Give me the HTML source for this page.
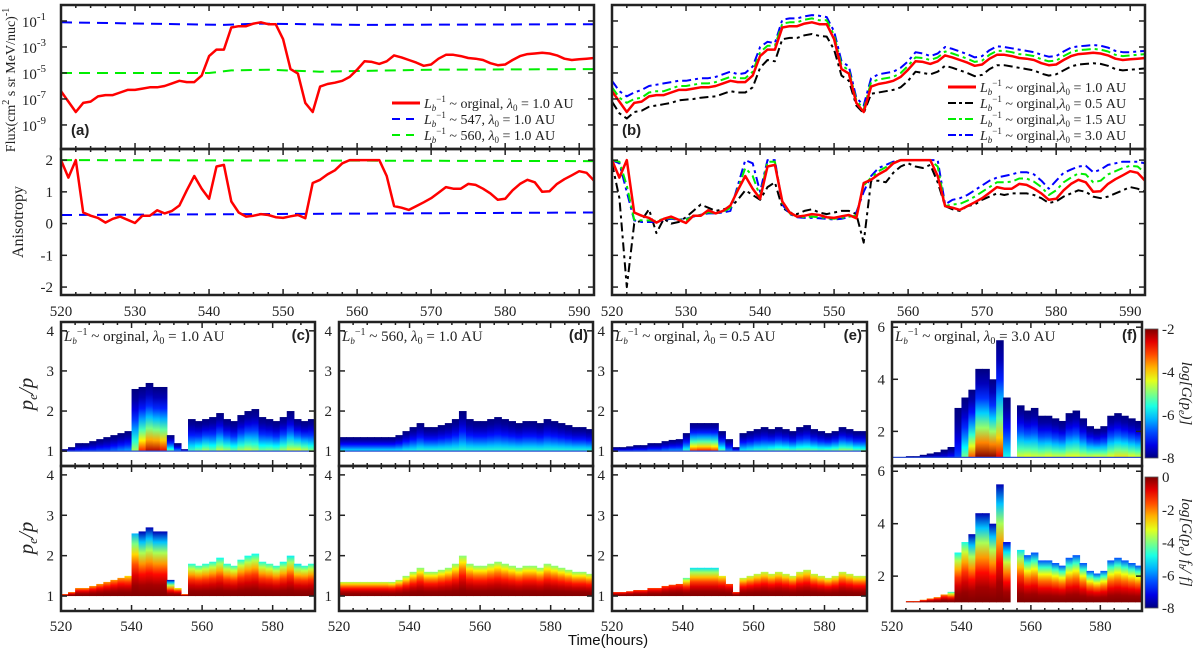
<!DOCTYPE html>
<html><head><meta charset="utf-8">
<style>
body{margin:0;background:#fff;}
svg{display:block;font-family:"Liberation Serif",serif;}
.tk{font-size:15px;fill:#222;}
.lg{font-size:14px;fill:#222;}
</style></head>
<body>
<svg id="fig" width="1200" height="657" viewBox="0 0 1200 657" xmlns="http://www.w3.org/2000/svg">
<defs id="defs"></defs>
<g id="root"></g>
</svg>
<script>
// ---------- DATA ----------
const hours = [];for(let t=520;t<=592;t++)hours.push(t);
const fluxRed=[-6.4,-7.2,-8.0,-7.3,-7.2,-6.8,-6.7,-6.7,-6.5,-6.3,-6.3,-6.2,-6.1,-6.1,-6.0,-5.8,-5.6,-5.7,-5.7,-5.2,-3.7,-3.2,-3.2,-1.5,-1.4,-1.4,-1.2,-1.1,-1.25,-1.25,-2.4,-4.7,-5.05,-7.3,-8.0,-6.05,-5.85,-5.75,-5.6,-5.3,-4.75,-4.1,-4.15,-4.3,-4.1,-3.65,-3.8,-4.0,-4.2,-4.45,-4.35,-3.9,-3.6,-3.6,-3.7,-3.85,-3.9,-4.0,-4.25,-4.4,-4.35,-4.0,-3.7,-3.55,-3.5,-3.45,-3.5,-3.65,-3.9,-4.0,-3.95,-3.9,-3.85];
const fluxBlack=[-7.2,-8.1,-8.5,-8.0,-7.9,-7.6,-7.5,-7.4,-7.3,-7.1,-7.05,-7.0,-6.9,-6.85,-6.8,-6.6,-6.4,-6.5,-6.5,-6.1,-4.6,-4.0,-4.1,-2.4,-2.3,-2.3,-2.1,-2.0,-2.15,-2.2,-3.2,-5.2,-5.6,-7.5,-8.1,-6.6,-6.5,-6.4,-6.3,-6.1,-5.6,-4.9,-5.0,-5.1,-4.9,-4.45,-4.6,-4.8,-5.0,-5.25,-5.15,-4.7,-4.4,-4.4,-4.5,-4.6,-4.7,-4.8,-5.05,-5.2,-5.1,-4.8,-4.5,-4.35,-4.3,-4.25,-4.3,-4.45,-4.7,-4.8,-4.75,-4.7,-4.65];
const fluxGreen=[-6.1,-6.9,-7.3,-7.0,-6.9,-6.5,-6.4,-6.4,-6.2,-6.0,-6.0,-5.9,-5.8,-5.8,-5.7,-5.5,-5.3,-5.4,-5.4,-4.9,-3.4,-2.9,-2.9,-1.2,-1.1,-1.1,-0.9,-0.8,-0.95,-0.95,-2.1,-4.4,-4.8,-7.1,-7.8,-5.7,-5.5,-5.4,-5.3,-5.0,-4.45,-3.8,-3.85,-4.0,-3.8,-3.35,-3.5,-3.7,-3.9,-4.15,-4.05,-3.6,-3.3,-3.3,-3.4,-3.55,-3.6,-3.7,-3.95,-4.1,-4.05,-3.7,-3.4,-3.25,-3.2,-3.15,-3.2,-3.35,-3.6,-3.7,-3.65,-3.6,-3.55];
const fluxBlue=[-5.6,-6.4,-6.8,-6.5,-6.3,-6.0,-5.9,-5.8,-5.7,-5.6,-5.6,-5.5,-5.4,-5.4,-5.3,-5.1,-4.9,-5.1,-5.0,-4.5,-3.0,-2.6,-2.7,-0.9,-0.8,-0.8,-0.65,-0.55,-0.6,-0.7,-1.8,-4.1,-4.5,-6.9,-7.5,-5.4,-5.1,-5.0,-4.9,-4.6,-4.1,-3.4,-3.5,-3.7,-3.5,-3.0,-3.15,-3.35,-3.55,-3.8,-3.7,-3.25,-2.95,-3.0,-3.1,-3.2,-3.3,-3.4,-3.6,-3.75,-3.7,-3.35,-3.05,-2.95,-2.9,-2.85,-2.9,-3.05,-3.3,-3.4,-3.4,-3.35,-3.3];
const fluxBlueDashTimes=[520,542,547,560,592];
const fluxBlueDash=[-1.1,-1.3,-1.2,-1.3,-1.25];
const fluxGreenDashTimes=[520,540,543,548,555,560,570,592];
const fluxGreenDash=[-5.0,-5.0,-4.8,-4.75,-4.9,-4.85,-4.75,-4.7];
const anisRed=[2.0,1.45,2.0,0.35,0.25,0.18,0.03,0.15,0.22,0.12,0.02,0.25,0.25,0.42,0.32,0.4,0.57,1.05,1.5,1.1,0.78,1.8,1.85,0.7,0.35,0.22,0.25,0.3,0.27,0.2,0.18,0.23,0.27,0.17,1.28,1.38,1.55,1.68,1.9,2.0,2.0,2.0,2.0,2.0,1.5,0.55,0.5,0.43,0.55,0.67,0.8,0.97,1.15,1.1,1.1,1.25,1.22,1.1,0.95,0.75,0.78,1.05,1.25,1.38,1.3,1.0,1.02,1.25,1.4,1.52,1.65,1.6,1.35];
const anisBlue=[2.0,1.9,1.0,0.1,0.05,0.05,0.05,0.12,0.15,0.12,0.15,0.22,0.28,0.32,0.32,0.35,0.4,1.2,2.0,1.9,1.0,2.0,2.0,0.6,0.3,0.2,0.18,0.18,0.17,0.15,0.13,0.15,0.2,0.35,1.0,1.5,1.75,1.85,1.95,2.0,2.0,2.0,2.0,2.0,2.0,0.6,0.75,0.8,0.9,1.05,1.2,1.35,1.45,1.5,1.55,1.62,1.62,1.55,1.35,1.1,1.35,1.6,1.7,1.8,1.82,1.62,1.7,1.85,1.9,1.95,1.95,1.95,1.9];
const anisGreen=[2.0,1.95,1.2,0.12,0.1,0.1,0.08,0.15,0.18,0.12,0.12,0.24,0.27,0.36,0.32,0.37,0.5,1.1,1.75,1.5,0.85,1.95,1.95,0.65,0.32,0.22,0.2,0.22,0.2,0.17,0.15,0.18,0.22,0.25,1.2,1.45,1.65,1.78,1.93,2.0,2.0,2.0,2.0,2.0,1.8,0.55,0.6,0.62,0.72,0.85,1.0,1.15,1.3,1.3,1.32,1.42,1.42,1.32,1.15,0.9,1.05,1.3,1.45,1.58,1.55,1.3,1.35,1.55,1.65,1.75,1.82,1.8,1.6];
const anisBlack=[1.9,0.8,-2.0,0.0,0.1,0.45,-0.3,0.15,0.0,0.05,0.2,0.4,0.6,0.5,0.4,0.45,0.5,0.75,1.05,0.9,0.75,1.15,1.3,0.5,0.35,0.3,0.4,0.45,0.35,0.3,0.35,0.4,0.4,0.3,-0.6,1.35,1.35,1.3,1.6,1.8,1.9,1.8,1.75,1.85,1.3,0.55,0.45,0.4,0.55,0.6,0.75,0.85,0.95,0.9,0.95,0.95,0.95,0.9,0.8,0.65,0.7,0.85,0.95,1.05,1.0,0.85,0.8,0.85,0.95,1.05,1.15,1.1,1.0];
const anisBlueDashTimes=[520,592];const anisBlueDash=[0.27,0.35];
const anisGreenDashTimes=[520,592];const anisGreenDash=[2.0,1.97];

// heatmap data (2-hour columns)
const hmTimes=[];for(let t=520;t<=592;t+=2)hmTimes.push(t);
const topC=[1.05,1.1,1.2,1.2,1.25,1.3,1.35,1.4,1.45,1.5,2.55,2.6,2.7,2.6,2.6,1.4,1.2,1.05,1.8,1.75,1.8,1.85,1.95,1.8,1.75,1.9,2.0,2.05,1.85,1.8,1.75,1.85,2.0,1.8,1.75,1.8,1.8];
const peakC=[0.15,0.15,0.18,0.2,0.2,0.22,0.22,0.25,0.28,0.3,0.55,0.85,0.95,0.95,0.9,0.5,0.3,0.2,0.45,0.5,0.55,0.5,0.58,0.55,0.5,0.55,0.58,0.55,0.5,0.52,0.5,0.55,0.6,0.62,0.58,0.52,0.5];
const lowC=[0.72,0.72,0.72,0.72,0.72,0.72,0.72,0.72,0.72,0.65,0.3,0.05,0.05,0.05,0.05,0.05,0.6,0.7,0.4,0.42,0.4,0.4,0.38,0.4,0.42,0.4,0.38,0.38,0.4,0.42,0.4,0.38,0.36,0.35,0.4,0.4,0.4];
const topD=[1.35,1.35,1.35,1.35,1.35,1.35,1.35,1.35,1.4,1.5,1.6,1.7,1.6,1.6,1.65,1.7,1.8,2.0,1.8,1.75,1.75,1.8,1.85,1.8,1.75,1.7,1.75,1.75,1.7,1.8,1.75,1.7,1.65,1.6,1.6,1.55,1.55];
const peakD=[0.38,0.38,0.38,0.38,0.38,0.38,0.38,0.38,0.38,0.4,0.4,0.42,0.42,0.42,0.42,0.42,0.42,0.42,0.42,0.42,0.42,0.42,0.42,0.42,0.42,0.42,0.42,0.42,0.42,0.42,0.42,0.42,0.42,0.42,0.42,0.42,0.42];
const lowD=[0.55,0.55,0.55,0.55,0.55,0.55,0.55,0.52,0.52,0.5,0.5,0.5,0.5,0.5,0.5,0.5,0.5,0.5,0.5,0.5,0.5,0.5,0.5,0.5,0.5,0.5,0.5,0.5,0.5,0.5,0.5,0.5,0.5,0.5,0.5,0.52,0.52];
const topE=[1.1,1.1,1.12,1.15,1.15,1.2,1.2,1.25,1.28,1.3,1.45,1.7,1.7,1.7,1.7,1.5,1.3,1.1,1.45,1.5,1.55,1.6,1.55,1.6,1.55,1.5,1.6,1.65,1.55,1.5,1.45,1.5,1.6,1.55,1.5,1.5,1.5];
const peakE=[0.2,0.2,0.2,0.22,0.22,0.25,0.25,0.28,0.3,0.3,0.45,0.85,0.88,0.88,0.85,0.5,0.3,0.25,0.4,0.42,0.45,0.45,0.48,0.5,0.5,0.48,0.5,0.5,0.5,0.48,0.5,0.52,0.55,0.55,0.5,0.48,0.48];
const lowE=[0.8,0.8,0.8,0.8,0.8,0.8,0.8,0.8,0.8,0.8,0.45,0.35,0.35,0.35,0.35,0.6,0.8,0.8,0.55,0.55,0.55,0.55,0.55,0.55,0.55,0.55,0.55,0.55,0.55,0.55,0.55,0.55,0.55,0.55,0.55,0.55,0.55];
const topF=[1.0,1.0,1.05,1.05,1.1,1.15,1.2,1.3,1.4,2.9,3.3,3.6,4.4,4.4,4.0,5.5,3.3,1.0,3.0,2.8,2.9,2.6,2.6,2.5,2.4,2.7,2.8,2.5,2.2,2.1,2.2,2.6,2.7,2.6,2.5,2.4,2.3];
const peakF=[0.1,0.1,0.1,0.1,0.1,0.1,0.12,0.12,0.15,0.2,0.5,0.8,1.0,1.0,1.0,0.9,0.4,0.1,0.6,0.62,0.6,0.6,0.62,0.6,0.6,0.62,0.62,0.6,0.6,0.62,0.6,0.62,0.65,0.65,0.62,0.6,0.6];
const lowF=[0.72,0.72,0.72,0.72,0.72,0.72,0.72,0.72,0.4,0.38,0.4,0.05,0.05,0.05,0.05,0.05,0.1,0.7,0.35,0.2,0.2,0.2,0.2,0.2,0.2,0.2,0.2,0.2,0.2,0.2,0.2,0.2,0.2,0.2,0.2,0.2,0.2];

// ---------- HELPERS ----------
const NS="http://www.w3.org/2000/svg";
const root=document.getElementById('root');
const defs=document.getElementById('defs');
function mk(tag,attrs,parent){const e=document.createElementNS(NS,tag);for(const k in attrs)e.setAttribute(k,attrs[k]);(parent||root).appendChild(e);return e;}
function lin(d0,d1,r0,r1){return v=>r0+(v-d0)*(r1-r0)/(d1-d0);}
function jet(v){v=Math.max(0,Math.min(1,v));const c=x=>Math.round(255*Math.max(0,Math.min(1,1.5-Math.abs(x))));return `rgb(${c(4*v-3)},${c(4*v-2)},${c(4*v-1)})`;}
function text(str,x,y,cls,anchor,parent){const t=mk('text',{x:x,y:y,class:cls||'tk','text-anchor':anchor||'middle'},parent);t.textContent=str;return t;}
function frame(x0,x1,y0,y1,name){const r=mk('rect',{x:x0,y:y0,width:x1-x0,height:y1-y0,fill:'none',stroke:'#222','stroke-width':2.5});}
function xticks(X,y0,y1,step,minor){for(let t=520;t<=592;t+=minor){const L=(t%step===0)?6:3;mk('line',{x1:X(t),x2:X(t),y1:y1,y2:y1-L,stroke:'#222','stroke-width':1.5});mk('line',{x1:X(t),x2:X(t),y1:y0,y2:y0+L,stroke:'#222','stroke-width':1.5});}}
function yticks(Y,x0,x1,vals){vals.forEach(v=>{mk('line',{x1:x0,x2:x0+6,y1:Y(v),y2:Y(v),stroke:'#222','stroke-width':1.5});mk('line',{x1:x1,x2:x1-6,y1:Y(v),y2:Y(v),stroke:'#222','stroke-width':1.5});});}
function line(X,Y,ts,vs,color,dash,w,name,clipId){const d=ts.map((t,i)=>(i?'L':'M')+X(t).toFixed(1)+','+Y(vs[i]).toFixed(1)).join('');const p=mk('path',{d:d,fill:'none',stroke:color,'stroke-width':w,'stroke-dasharray':dash||'none','stroke-linejoin':'round','clip-path':`url(#${clipId})`});}
function clip(id,x0,x1,y0,y1){const c=mk('clipPath',{id:id},defs);mk('rect',{x:x0,y:y0,width:x1-x0,height:y1-y0},c);}

// ---------- TOP PANELS ----------
const fluxDom=[-10.85,0.23], anisDom=[-2.25,2.35];
function topPanel(x0,x1,tag,isA){
  const X=lin(520,592,x0,x1);
  const YF=lin(fluxDom[0],fluxDom[1],149,5);
  const YA=lin(anisDom[0],anisDom[1],295,149);
  clip('cf'+tag,x0,x1,5,149);clip('ca'+tag,x0,x1,149,295);
  if(isA){
    line(X,YF,fluxBlueDashTimes,fluxBlueDash,'#0000ff','11 7',2,'flux-blue-547','cf'+tag);
    line(X,YF,fluxGreenDashTimes,fluxGreenDash,'#00ee00','11 7',2,'flux-green-560','cf'+tag);
    line(X,YF,hours,fluxRed,'#ff0000','',2.5,'flux-red-original','cf'+tag);
    line(X,YA,anisGreenDashTimes,anisGreenDash,'#00ee00','11 7',2,'anis-green-560','ca'+tag);
    line(X,YA,anisBlueDashTimes,anisBlueDash,'#0000ff','11 7',2,'anis-blue-547','ca'+tag);
    line(X,YA,hours,anisRed,'#ff0000','',2.5,'anis-red-original','ca'+tag);
  } else {
    line(X,YF,hours,fluxBlack,'#000','9 4 3 4',2,'flux-black-0.5','cf'+tag);
    line(X,YF,hours,fluxBlue,'#0000ff','9 4 3 4',2,'flux-blue-3.0','cf'+tag);
    line(X,YF,hours,fluxGreen,'#00ee00','9 4 3 4',2,'flux-green-1.5','cf'+tag);
    line(X,YF,hours,fluxRed,'#ff0000','',2.5,'flux-red-1.0','cf'+tag);
    line(X,YA,hours,anisBlack,'#000','9 4 3 4',2,'anis-black-0.5','ca'+tag);
    line(X,YA,hours,anisBlue,'#0000ff','9 4 3 4',2,'anis-blue-3.0','ca'+tag);
    line(X,YA,hours,anisGreen,'#00ee00','9 4 3 4',2,'anis-green-1.5','ca'+tag);
    line(X,YA,hours,anisRed,'#ff0000','',2.5,'anis-red-1.0','ca'+tag);
  }
  frame(x0,x1,5,149,'flux-panel-'+tag);frame(x0,x1,149,295,'anisotropy-panel-'+tag);
  xticks(X,5,149,10,2);xticks(X,149,295,10,2);
  yticks(YF,x0,x1,[-1,-3,-5,-7,-9]);yticks(YA,x0,x1,[-2,-1,0,1,2]);
  for(let t=520;t<=590;t+=10){const e=text(String(t),X(t),316);}
  if(isA){
    [-1,-3,-5,-7,-9].forEach(v=>{const t=text('10',x0-15,YF(v)+6,'tk','end');const s=mk('tspan',{dy:-7,'font-size':11},t);s.textContent=String(v);});
    [2,1,0,-1,-2].forEach(v=>text(String(v),x0-8,YA(v)+5,'tk','end'));
  }
  const lbl=mk('text',{x:x0+10,y:135,'font-family':'Liberation Sans,sans-serif','font-weight':'bold','font-size':15,fill:'#222'});lbl.textContent='('+tag+')';
  
}
topPanel(61,594,'a',true);
topPanel(612,1145,'b',false);

// axis titles
(function(){
 const t=mk('text',{x:0,y:0,transform:'translate(15,80) rotate(-90)','text-anchor':'middle','font-size':14,fill:'#222'});
 t.innerHTML='Flux(cm<tspan dy="-6" font-size="10">2</tspan><tspan dy="6"> s sr MeV/nuc)</tspan><tspan dy="-6" font-size="10">-1</tspan>';
 
 const a=mk('text',{x:0,y:0,transform:'translate(23,222) rotate(-90)','text-anchor':'middle','font-size':16,fill:'#222'});a.textContent='Anisotropy';
 
})();

// legends
function legendRow(x,y,color,dash,w,label,sub){
 mk('line',{x1:x,x2:x+28,y1:y,y2:y,stroke:color,'stroke-width':w,'stroke-dasharray':dash||'none'});
 const t=mk('text',{x:x+32,y:y+5,class:'lg'});
 t.innerHTML=`<tspan font-style="italic">L</tspan><tspan font-style="italic" font-size="9" dy="3">b</tspan><tspan font-size="9" dy="-9">−1</tspan><tspan dy="6"> ~ ${label}</tspan><tspan font-style="italic">λ</tspan><tspan font-size="9" dy="3">0</tspan><tspan dy="-3"> = ${sub} AU</tspan>`;
 
}
legendRow(392,103,'#ff0000','',3,'orginal, ','1.0');
legendRow(392,119,'#0000ff','8 6',2,'547, ','1.0');
legendRow(392,135,'#00ee00','8 6',2,'560, ','1.0');
legendRow(948,87,'#ff0000','',3,'orginal,','1.0');
legendRow(948,103,'#000','8 3 3 3',2,'orginal,','0.5');
legendRow(948,119,'#00ee00','8 3 3 3',2,'orginal,','1.5');
legendRow(948,135,'#0000ff','8 3 3 3',2,'orginal,','3.0');

// ---------- HEATMAP PANELS ----------
let gid=0;
function heat(x0,x1,y0,y1,dom,tops,vals,mode,name){
 const X=lin(520,592,x0,x1),Y=lin(dom[0],dom[1],y1,y0);
 const g=mk('g',{});
 hmTimes.forEach((t,i)=>{
  if(t>=592)return;
  const id='hg'+(gid++);
  const lg=mk('linearGradient',{id:id,x1:0,y1:1,x2:0,y2:0},defs);
  for(let k=0;k<=6;k++){const h=k/6;let v;
   if(mode==='up')v=vals[i]*Math.pow(1-h,1.6);else v=1-(1-vals[i])*Math.pow(h,1.8);
   mk('stop',{offset:h,'stop-color':jet(v)},lg);}
  const r=mk('rect',{x:X(t),y:Y(tops[i]),width:X(t+2)-X(t)+0.6,height:Y(1)-Y(tops[i]),fill:`url(#${id})`},g);
  
 });
 if(mode==='up')mk('line',{x1:x0,x2:x1,y1:Y(1),y2:Y(1),stroke:'#3050d0','stroke-width':1.2},g);
}
function hPanel(x0,x1,tag,dom,ticks,tops,peaks,lows,title){
 heat(x0,x1,322,466,dom,tops,peaks,'up','heatmap-G-'+tag);
 heat(x0,x1,466,611,dom,tops,lows,'low','heatmap-Gfb-'+tag);
 const X=lin(520,592,x0,x1);
 [[322,466],[466,611]].forEach(([a,b])=>{
  frame(x0,x1,a,b,'panel-'+tag);xticks(X,a,b,20,4);
  const Y=lin(dom[0],dom[1],b,a);yticks(Y,x0,x1,ticks);
  ticks.forEach(v=>text(String(v),x0-7,Y(v)+5,'tk','end'));
 });
 [520,540,560,580].forEach(t=>{const e=text(String(t),X(t),631);});
 const tt=mk('text',{x:x0+3,y:341,'font-size':15,fill:'#222'});
 tt.innerHTML=`<tspan font-style="italic">L</tspan><tspan font-style="italic" font-size="9" dy="3">b</tspan><tspan font-size="10" dy="-9">−1</tspan><tspan dy="6"> ~ ${title[0]}, </tspan><tspan font-style="italic">λ</tspan><tspan font-size="10" dy="3">0</tspan><tspan dy="-3"> = ${title[1]} AU</tspan>`;
 
 const l=mk('text',{x:x1-5,y:340,'text-anchor':'end','font-family':'Liberation Sans,sans-serif','font-weight':'bold','font-size':15,fill:'#222'});l.textContent='('+tag+')';
 
}
hPanel(61,315,'c',[0.63,4.22],[1,2,3,4],topC,peakC,lowC,['orginal','1.0']);
hPanel(339,593,'d',[0.63,4.22],[1,2,3,4],topD,peakD,lowD,['560','1.0']);
hPanel(612,867,'e',[0.63,4.22],[1,2,3,4],topE,peakE,lowE,['orginal','0.5']);
hPanel(892,1142,'f',[0.67,6.2],[2,4,6],topF,peakF,lowF,['orginal','3.0']);

// p_e/p labels
[394,538].forEach(y=>{const t=mk('text',{x:0,y:0,transform:`translate(33,${y}) rotate(-90)`,'text-anchor':'middle','font-size':21,'font-style':'italic',fill:'#222'});
 t.innerHTML='p<tspan font-size="13" dy="4">e</tspan><tspan dy="-4">/p</tspan>';});

// time title
(function(){const t=mk('text',{x:608,y:645,'text-anchor':'middle','font-family':'Liberation Sans,sans-serif','font-size':15,fill:'#111'});t.textContent='Time(hours)';})();

// colorbars
function cbar(y0,y1,labels,name,title){
 const id='cb'+name;const lg=mk('linearGradient',{id:id,x1:0,y1:1,x2:0,y2:0},defs);
 for(let k=0;k<=10;k++)mk('stop',{offset:k/10,'stop-color':jet(k/10)},lg);
 const r=mk('rect',{x:1145,y:y0,width:13,height:y1-y0,fill:`url(#${id})`,stroke:'#555','stroke-width':0.8});
 
 labels.forEach((s,i)=>{const y=y0+(y1-y0)*i/(labels.length-1);text(s,1162,y+5,'tk','start').setAttribute('font-size','13');});
 const t=mk('text',{x:0,y:0,transform:`translate(1182,${(y0+y1)/2}) rotate(90)`,'text-anchor':'middle','font-size':15,'font-style':'italic',fill:'#222'});
 t.innerHTML=title;
}
cbar(329,458,['-2','-4','-6','-8'],'colorbar-G','log[G(p<tspan font-size="10" dy="3">e</tspan><tspan dy="-3">)]</tspan>');
cbar(477,608,['0','-2','-4','-6','-8'],'colorbar-Gfb','log[G(p<tspan font-size="10" dy="3">e</tspan><tspan dy="-3">) f</tspan><tspan font-size="10" dy="3">b</tspan><tspan dy="-3">/ f]</tspan>');
</script>
</body></html>
